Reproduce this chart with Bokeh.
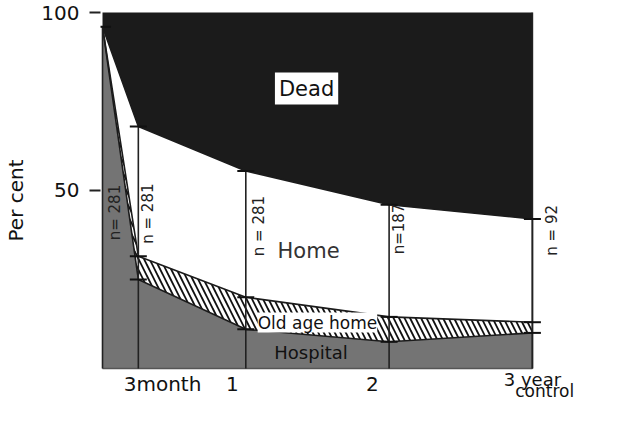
import numpy as np
from bokeh.plotting import figure
from bokeh.models import Range1d, FixedTicker, Label
from bokeh.core.properties import value
from bokeh.embed import file_html
from bokeh.resources import INLINE

# ---- data (per cent of patients at each follow-up) ----
time = [0, 0.25, 1, 2, 3]
hospital = [96, 25, 11, 7.5, 10]
old_age_home = [0, 6.5, 9, 7, 3]
home = [0, 36.5, 35.5, 31.5, 29]
dead = [4, 32, 44.5, 54, 58]

n_labels = ["n= 281", "n = 281", "n = 281", "n=187", "n = 92"]
n_label_x = [0.09, 0.32, 1.09, 2.07, 3.14]
n_label_y = [43.8, 43.5, 40.0, 39.2, 38.8]

x_tick_labels = ["3month", "1", "2"]
x_tick_label_x = [0.419, 0.907, 1.884]
last_tick_label = ["3 year", "control"]

y_ticks = [50, 100]

FONT = "DejaVu Sans"

t = np.array(time, dtype=float)
c_hosp = np.array(hospital, dtype=float)
c_old = c_hosp + np.array(old_age_home, dtype=float)
c_home = c_old + np.array(home, dtype=float)
c_dead = c_home + np.array(dead, dtype=float)

p = figure(width=609, height=400, output_backend="svg", toolbar_location=None,
           x_range=Range1d(-0.014, 3.538), y_range=Range1d(-8.99, 103.37),
           min_border_left=100, min_border_right=0, min_border_top=0, min_border_bottom=0)
p.outline_line_color = None
p.grid.visible = False
p.xaxis.visible = False

ya = p.yaxis[0]
ya.ticker = FixedTicker(ticks=y_ticks)
ya.axis_line_color = None
ya.major_tick_out = 11
ya.major_tick_in = 0
ya.major_tick_line_width = 2
ya.major_tick_line_color = "#222222"
ya.minor_tick_line_color = None
ya.major_label_text_font = FONT
ya.major_label_text_font_size = "20px"
ya.major_label_text_color = "#111111"
ya.major_label_standoff = 10
ya.axis_label = "Per cent"
ya.axis_label_text_font = FONT
ya.axis_label_text_font_style = "normal"
ya.axis_label_text_font_size = "20px"
ya.axis_label_text_color = "#111111"
ya.axis_label_standoff = 10

# areas
p.varea(x=t, y1=0, y2=c_hosp, fill_color="#747474")
p.varea(x=t, y1=c_hosp, y2=c_old, fill_color="white",
        hatch_pattern="\\", hatch_color="#111111", hatch_scale=11, hatch_weight=1.8)
p.varea(x=t, y1=c_old, y2=c_home, fill_color="white")
p.varea(x=t, y1=c_home, y2=c_dead, fill_color="#1b1b1b")

# boundary lines
for yy in (c_hosp, c_old, c_home):
    p.line(t, yy, line_color="#1b1b1b", line_width=1.6)
p.line([t[0], t[-1]], [0, 0], line_color="#555555", line_width=1.5)

# vertical follow-up lines
p.segment(x0=t, y0=np.zeros_like(t), x1=t, y1=c_home, line_color="#222222", line_width=1.6)
p.segment(x0=[t[-1]], y0=[0], x1=[t[-1]], y1=[c_dead[-1]], line_color="#222222", line_width=1.6)

# node ticks
nx = np.concatenate([t[1:], t[1:], t[1:], t[:1]])
ny = np.concatenate([c_hosp[1:], c_old[1:], c_home[1:], c_home[:1]])
p.scatter(nx, ny, marker="dash", size=17, line_color="#111111", line_width=2)

# n labels
p.text(x=n_label_x, y=n_label_y, text=n_labels, angle=np.pi / 2,
       text_font=value(FONT), text_font_size="15px", text_color="#222222",
       text_align="center", text_baseline="middle")

# x labels
p.text(x=x_tick_label_x, y=[-4.4] * len(x_tick_labels), text=x_tick_labels,
       text_font=value(FONT), text_font_size="20px", text_color="#111111",
       text_align="center", text_baseline="alphabetic")
p.add_layout(Label(x=2.80, y=-3.09, text=last_tick_label[0], text_font=FONT,
                   text_font_size="18px", text_color="#111111",
                   text_align="left", text_baseline="alphabetic"))
p.add_layout(Label(x=2.88, y=-8.99, text=last_tick_label[1], text_font=FONT,
                   text_font_size="17px", text_color="#111111",
                   text_align="left", text_baseline="bottom"))

# region labels
p.add_layout(Label(x=1.424, y=78.65, text="Dead", text_font=FONT, text_font_size="21px",
                   text_color="#111111", text_align="center", text_baseline="middle",
                   background_fill_color="white", padding=4))
p.text(x=[1.438], y=[32.9], text=["Home"], text_font=value(FONT), text_font_size="21px",
       text_color="#333333", text_align="center", text_baseline="middle")
p.text(x=[1.5], y=[12.9], text=["Old age home"], text_font=value(FONT), text_font_size="17px",
       text_color="#111111", text_align="center", text_baseline="middle",
       background_fill_color="white")
p.text(x=[1.455], y=[4.5], text=["Hospital"], text_font=value(FONT), text_font_size="18px",
       text_color="#111111", text_align="center", text_baseline="middle")

open("out.html", "w").write(file_html(p, INLINE))
